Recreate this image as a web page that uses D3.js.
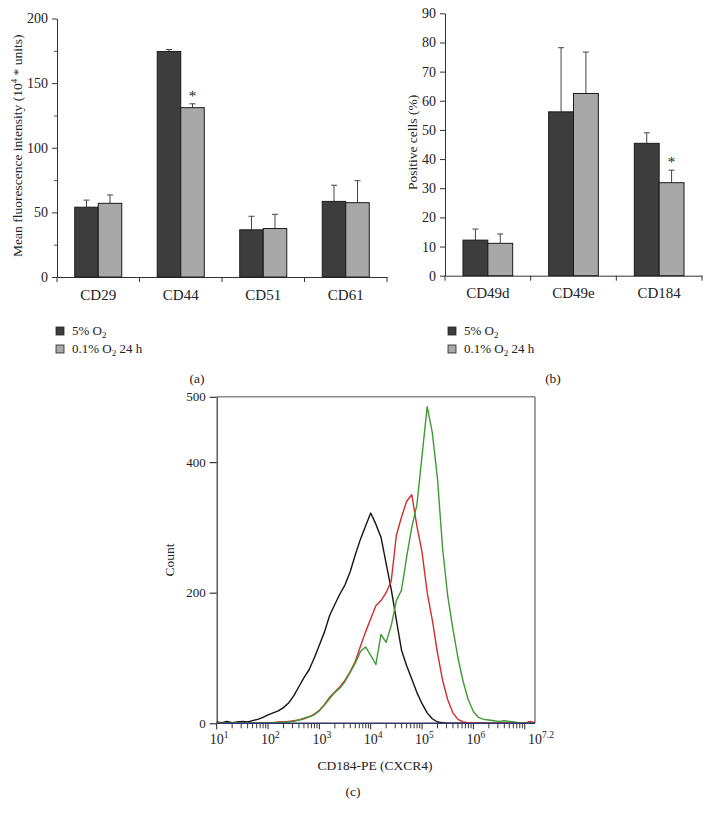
<!DOCTYPE html>
<html><head><meta charset="utf-8">
<script src="https://cdn.jsdelivr.net/npm/d3@7"></script>
<style>
body{margin:0;background:#fff}
svg{display:block}
text{font-family:"Liberation Serif","Times New Roman",serif;fill:#222}
</style>
</head><body>
<svg id="chart" width="710" height="815"></svg>
<script>
// ---------- Panel (a) data ----------
const catsA = ["CD29", "CD44", "CD51", "CD61"];
const normoxA = [54, 174.5, 36.5, 58.5];
const normoxErrA = [5.5, 1.5, 10.5, 12.5];
const hypoxA = [57, 131, 37.5, 57.5];
const hypoxErrA = [6.5, 3, 11, 17];
const sigA = [false, true, false, false];
const ticksA = [0, 50, 100, 150, 200];
const minorA = [25, 75, 125, 175];

// ---------- Panel (b) data ----------
const catsB = ["CD49d", "CD49e", "CD184"];
const normoxB = [12.2, 56.2, 45.4];
const normoxErrB = [3.8, 22, 3.6];
const hypoxB = [11.1, 62.5, 31.9];
const hypoxErrB = [3.2, 14.2, 4.3];
const sigB = [false, false, true];
const ticksB = [0, 10, 20, 30, 40, 50, 60, 70, 80, 90];

const seriesNames = ["5% O2", "0.1% O2 24 h"];

// ---------- Panel (c) histogram data (log10 of fluorescence, counts) ----------
const histLog = [1.0,1.1,1.2,1.3,1.4,1.5,1.6,1.7,1.8,1.9,
  2.0,2.1,2.2,2.3,2.4,2.5,2.6,2.7,2.8,2.9,
  3.0,3.1,3.2,3.3,3.4,3.5,3.6,3.7,3.8,3.9,
  4.0,4.1,4.2,4.3,4.4,4.5,4.6,4.7,4.8,4.9,
  5.0,5.1,5.2,5.3,5.4,5.5,5.6,5.7,5.8,5.9,
  6.0,6.1,6.2,6.3,6.4,6.5,6.6,6.7,6.8,6.9,
  7.0,7.1,7.2];
const isotypeCounts = [2,1,3,1,2,3,2,4,6,9,
  13,16,19,24,31,42,56,70,82,100,
  120,140,165,182,198,212,232,258,282,302,
  322,305,285,245,205,158,112,88,68,47,
  30,16,7,2,1,0,0,0,0,0,
  0,0,0,0,0,0,0,0,0,0,
  0,0,0];
const hypoxCounts = [1,0,1,0,1,0,1,1,0,1,
  1,1,2,2,3,4,5,7,10,14,
  20,29,40,48,56,66,79,95,118,140,
  160,180,188,200,218,288,316,340,350,302,
  262,200,158,108,66,36,16,6,2,1,
  0,0,0,0,0,0,0,0,0,0,
  0,3,1];
const normoxCounts = [1,0,1,0,1,0,1,1,0,1,
  1,1,1,2,2,3,5,8,10,13,
  19,28,38,47,54,64,78,92,110,117,
  104,90,136,124,150,188,204,255,300,335,
  410,485,445,375,268,195,145,100,64,36,
  18,9,6,5,4,3,4,3,2,0,
  0,0,0];
const histTicksY = [0, 200, 400, 500];
const histDecades = [1, 2, 3, 4, 5, 6];

const svg = d3.select("#chart");
const SERIF = '"Liberation Serif","Times New Roman",serif';

function barPanel(cfg) {
  const x0 = d3.scaleBand().domain(cfg.cats).range(cfg.xRange).paddingInner(0).paddingOuter(0);
  const bw = x0.bandwidth();
  const barW = bw * cfg.barFrac;
  const x1 = d3.scaleBand().domain([0, 1]).range([bw / 2 - barW, bw / 2 + barW]);
  const y = d3.scaleLinear().domain(cfg.yDomain).range(cfg.yRange);
  const g = svg.append("g");

  const ay = g.append("g").attr("transform", `translate(${cfg.xRange[0]},0)`)
    .call(d3.axisLeft(y).tickValues(cfg.ticks).tickSize(5).tickSizeOuter(0).tickPadding(4));
  ay.selectAll("text").style("font-size", "14px").style("font-family", SERIF).attr("fill", "#222");
  ay.selectAll("line,path").attr("stroke", "#333");
  if (cfg.minor) {
    const am = g.append("g").attr("transform", `translate(${cfg.xRange[0]},0)`)
      .call(d3.axisLeft(y).tickValues(cfg.minor).tickSize(3).tickFormat(""));
    am.select("path").remove();
    am.selectAll("line").attr("stroke", "#555");
  }
  const ax = g.append("g").attr("transform", `translate(0,${cfg.yRange[0]})`)
    .call(d3.axisBottom(x0).tickSize(0).tickSizeOuter(0).tickPadding(12));
  ax.selectAll("text").style("font-size", "15px").style("font-family", SERIF).attr("fill", "#222");
  ax.select("path").attr("stroke", "#333");
  const bounds = cfg.cats.map(c => x0(c)).concat([x0.range()[1]]);
  g.selectAll(".bt").data(bounds).join("line")
    .attr("x1", d => d).attr("x2", d => d)
    .attr("y1", cfg.yRange[0]).attr("y2", cfg.yRange[0] + 5)
    .attr("stroke", "#333");

  const rows = cfg.cats.map((c, i) => ({
    c, i,
    vals: [
      { s: 0, v: cfg.s1[i], e: cfg.e1[i] },
      { s: 1, v: cfg.s2[i], e: cfg.e2[i] }
    ]
  }));
  const grp = g.selectAll(".grp").data(rows).join("g")
    .attr("transform", d => `translate(${x0(d.c)},0)`);
  const colors = ["#3d3d3d", "#a8a8a8"];
  grp.selectAll(".eb").data(d => d.vals).join("line")
    .attr("x1", d => x1(d.s) + x1.bandwidth() / 2).attr("x2", d => x1(d.s) + x1.bandwidth() / 2)
    .attr("y1", d => y(d.v)).attr("y2", d => y(d.v + d.e))
    .attr("stroke", "#444").attr("stroke-width", 1);
  grp.selectAll(".cap").data(d => d.vals).join("line")
    .attr("x1", d => x1(d.s) + x1.bandwidth() / 2 - 3).attr("x2", d => x1(d.s) + x1.bandwidth() / 2 + 3)
    .attr("y1", d => y(d.v + d.e)).attr("y2", d => y(d.v + d.e))
    .attr("stroke", "#444").attr("stroke-width", 1);
  grp.selectAll("rect").data(d => d.vals).join("rect")
    .attr("x", d => x1(d.s)).attr("width", x1.bandwidth())
    .attr("y", d => y(d.v)).attr("height", d => y(0) - y(d.v))
    .attr("fill", d => colors[d.s]).attr("stroke", "#1a1a1a").attr("stroke-width", 1);
  grp.filter(d => cfg.sig[d.i]).append("text")
    .attr("x", d => x1(1) + x1.bandwidth() / 2)
    .attr("y", d => y(d.vals[1].v + d.vals[1].e) - 3)
    .attr("text-anchor", "middle").style("font-size", "15px").text("*");

  const t = g.append("text")
    .attr("transform", `translate(${cfg.titleX},${(cfg.yRange[0] + cfg.yRange[1]) / 2 + cfg.titleDy}) rotate(-90)`)
    .attr("text-anchor", "middle").style("font-size", "13.5px");
  cfg.title(t);

  const lg = g.append("g");
  seriesNames.forEach((s, i) => {
    const yy = cfg.legendY + i * 18;
    lg.append("rect").attr("x", cfg.legendX).attr("y", yy - 4).attr("width", 8).attr("height", 8)
      .attr("fill", colors[i]).attr("stroke", "#222").attr("stroke-width", 0.8);
    const tx = lg.append("text").attr("x", cfg.legendX + 16).attr("y", yy + 4).style("font-size", "13px");
    if (i === 0) {
      tx.append("tspan").text("5% O");
      tx.append("tspan").attr("dy", 3).style("font-size", "9px").text("2");
    } else {
      tx.append("tspan").text("0.1% O");
      tx.append("tspan").attr("dy", 3).style("font-size", "9px").text("2");
      tx.append("tspan").attr("dy", -3).text(" 24 h");
    }
  });
  g.append("text").attr("x", cfg.panelX).attr("y", 383).attr("text-anchor", "middle")
    .style("font-size", "13.5px").text(cfg.panel);
}

barPanel({
  cats: catsA, s1: normoxA, e1: normoxErrA, s2: hypoxA, e2: hypoxErrA, sig: sigA,
  xRange: [57, 387], yRange: [277, 18.5], yDomain: [0, 200], ticks: ticksA, minor: minorA,
  barFrac: 0.285, titleX: 22, titleDy: -2,
  title: t => {
    t.append("tspan").text("Mean fluorescence intensity (10");
    t.append("tspan").attr("dy", -5).style("font-size", "9px").text("4");
    t.append("tspan").attr("dy", 5).text(" * units)");
  },
  legendX: 56, legendY: 331, panelX: 197, panel: "(a)"
});

barPanel({
  cats: catsB, s1: normoxB, e1: normoxErrB, s2: hypoxB, e2: hypoxErrB, sig: sigB,
  xRange: [445, 702], yRange: [275.7, 13.3], yDomain: [0, 90], ticks: ticksB, minor: null,
  barFrac: 0.29, titleX: 417, titleDy: -2,
  title: t => { t.text("Positive cells (%)"); },
  legendX: 448, legendY: 331, panelX: 553, panel: "(b)"
});

// ---------- Panel (c) ----------
const xC = d3.scaleLog().domain([10, Math.pow(10, 7.2)]).range([216.7, 535]);
const yC = d3.scaleLinear().domain([0, 500]).range([723.3, 396.8]);
const gc = svg.append("g");

gc.append("line").attr("x1", xC(10)).attr("x2", xC(Math.pow(10, 7.2)))
  .attr("y1", yC(500)).attr("y2", yC(500)).attr("stroke", "#8a8a8a").attr("stroke-width", 1.6);
gc.append("line").attr("x1", xC(Math.pow(10, 7.2))).attr("x2", xC(Math.pow(10, 7.2)))
  .attr("y1", yC(500)).attr("y2", yC(0)).attr("stroke", "#8a8a8a").attr("stroke-width", 1.6);

const ayc = gc.append("g").attr("transform", `translate(${xC(10)},0)`)
  .call(d3.axisLeft(yC).tickValues(histTicksY).tickSize(7).tickSizeOuter(0).tickPadding(4));
ayc.selectAll("text").style("font-size", "13px").style("font-family", SERIF).attr("fill", "#222");
ayc.selectAll("line,path").attr("stroke", "#333").attr("stroke-width", 1.2);

const minorVals = [];
histDecades.forEach(d => { [2,3,4,5,6,7,8,9].forEach(k => minorVals.push(k * Math.pow(10, d))); });
const majorVals = histDecades.map(d => Math.pow(10, d)).concat([1e7]);
gc.selectAll(".mn").data(minorVals).join("line")
  .attr("x1", d => xC(d)).attr("x2", d => xC(d)).attr("y1", yC(0)).attr("y2", yC(0) + 5)
  .attr("stroke", "#222").attr("stroke-width", 0.9);
gc.selectAll(".mj").data(majorVals).join("line")
  .attr("x1", d => xC(d)).attr("x2", d => xC(d)).attr("y1", yC(0)).attr("y2", yC(0) + 6)
  .attr("stroke", "#222").attr("stroke-width", 1);

const line = d3.line().x(d => xC(Math.pow(10, d[0]))).y(d => yC(d[1])).curve(d3.curveLinear);
const curves = [
  { counts: isotypeCounts, color: "#141414" },
  { counts: hypoxCounts, color: "#d42c2c" },
  { counts: normoxCounts, color: "#3f9a34" }
];
curves.forEach(c => {
  gc.append("path").datum(histLog.map((l, i) => [l, c.counts[i]]))
    .attr("d", line).attr("fill", "none").attr("stroke", c.color).attr("stroke-width", 1.4)
    .attr("stroke-linejoin", "round");
});

gc.append("line").attr("x1", xC(10)).attr("x2", xC(Math.pow(10, 7.2)))
  .attr("y1", yC(0)).attr("y2", yC(0)).attr("stroke", "#34346a").attr("stroke-width", 1.4);

const xLabels = histDecades.map(d => ({ v: Math.pow(10, d), e: String(d) }))
  .concat([{ v: Math.pow(10, 7.2), e: "7.2" }]);
xLabels.forEach(l => {
  const t = gc.append("text").attr("x", xC(l.v) - 7).attr("y", 744).style("font-size", "14px");
  t.append("tspan").text("10");
  t.append("tspan").attr("dy", -6).style("font-size", "9.5px").text(l.e);
});
gc.append("text").attr("x", 375).attr("y", 770).attr("text-anchor", "middle")
  .style("font-size", "13.5px").text("CD184-PE (CXCR4)");
gc.append("text").attr("transform", "translate(174,560) rotate(-90)").attr("text-anchor", "middle")
  .style("font-size", "13.5px").text("Count");
gc.append("text").attr("x", 353).attr("y", 796).attr("text-anchor", "middle")
  .style("font-size", "13.5px").text("(c)");
</script>
</body></html>
